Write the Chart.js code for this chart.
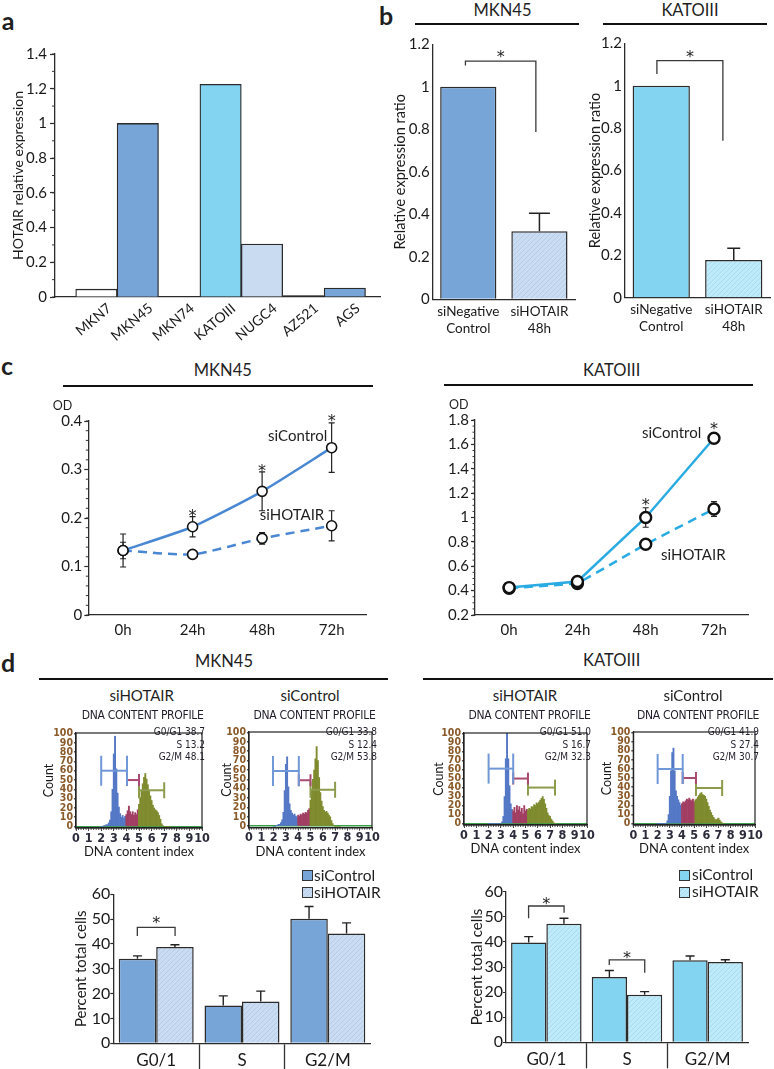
<!DOCTYPE html>
<html><head><meta charset="utf-8"><title>HOTAIR figure</title>
<script src="https://cdn.jsdelivr.net/npm/chart.js@4.4.1/dist/chart.umd.min.js"></script>
<style>
html,body{margin:0;padding:0;background:#fff}
body{position:relative;width:774px;height:1069px;overflow:hidden;font-family:Lato,"Open Sans",sans-serif;color:#1f1f1f}
canvas{position:absolute}
.t{position:absolute;transform:translate(-50%,-50%);line-height:1;white-space:nowrap}
.r{position:absolute;background:#111;height:2px}
.sw{position:absolute;width:11px;height:11px;border:1px solid #333;box-sizing:border-box}
</style></head><body>
<script>
// ---------------- DATA ----------------
const cellLines = ['MKN7','MKN45','MKN74','KATOIII','NUGC4','AZ521','AGS'];
const hotairExpr = [0.045, 1.0, 0, 1.225, 0.305, 0.008, 0.052];
const aTicks = [0,0.2,0.4,0.6,0.8,1,1.2,1.4];

const siLabels = [['siNegative','Control'],['siHOTAIR','48h']];
const mkn45Ratio = [1.0, 0.32];
const mkn45RatioErr = [0, 0.085];
const katoRatio = [1.0, 0.178];
const katoRatioErr = [0, 0.055];
const bTicks = [0,0.2,0.4,0.6,0.8,1,1.2];

const timePoints = ['0h','24h','48h','72h'];
const mkn45OdCtrl = [0.133, 0.182, 0.255, 0.345];
const mkn45OdCtrlErr = [0.034, 0.021, 0.040, 0.051];
const mkn45OdSi = [0.133, 0.125, 0.158, 0.184];
const mkn45OdSiErr = [0.017, 0.005, 0.012, 0.031];
const katoOdCtrl = [0.425, 0.475, 1.0, 1.65];
const katoOdCtrlErr = [0.02, 0.02, 0.08, 0.04];
const katoOdSi = [0.42, 0.458, 0.78, 1.07];
const katoOdSiErr = [0.02, 0.02, 0.02, 0.06];
const cLeftTicks = [0,0.1,0.2,0.3,0.4];
const cRightTicks = [0.2,0.4,0.6,0.8,1,1.2,1.4,1.6,1.8];

const dnaBins = [2.0,2.1,2.2,2.3,2.4,2.5,2.6,2.7,2.8,2.9,3.0,3.1,3.2,3.3,3.4,3.5,3.6,3.7,3.8,3.9,
  4.0,4.1,4.2,4.3,4.4,4.5,4.6,4.7,4.8,4.9,5.0,5.1,5.2,5.3,5.4,5.5,5.6,5.7,5.8,5.9,
  6.0,6.1,6.2,6.3,6.4,6.5,6.6,6.7,6.8,6.9,7.0,7.1,7.2,7.3,7.4];
const mkn45SiHist = [0,0,1,1,2,2,4,7,16,40,78,97,62,36,21,14,10,12,9,11,
  13,17,22,16,13,16,12,15,13,18,24,31,38,46,53,57,51,45,38,33,
  28,23,20,18,17,15,12,8,3,1,0,0,0,0,0];
const mkn45CtrlHist = [0,0,1,1,2,2,4,7,15,38,66,74,42,24,17,14,12,13,11,10,
  12,11,13,12,14,13,15,14,17,19,28,38,50,60,72,85,70,52,36,27,
  21,17,15,16,14,12,10,6,3,1,0,0,0,0,0];
const katoSiHist = [0,0,0,0,0,0,0,0,0,0,0,2,8,30,72,100,72,42,22,16,
  14,18,12,20,15,19,13,17,11,20,14,16,15,17,16,19,18,21,20,23,
  22,24,26,28,30,27,22,17,12,9,8,5,3,1,0];
const katoCtrlHist = [0,0,0,0,0,0,0,0,3,10,30,58,78,83,58,36,30,26,23,20,
  22,24,23,25,27,26,28,26,25,27,24,26,27,29,31,33,34,32,31,30,
  27,23,19,15,12,9,7,5,4,5,6,4,2,1,0];
const mkn45SiBounds = [4.0, 5.0], mkn45CtrlBounds = [4.0, 5.0];
const katoSiBounds = [4.0, 5.2], katoCtrlBounds = [4.0, 5.1];
// gates: [start, end, count level] for G0/G1, S, G2/M
const mkn45SiGates = [[2.0,4.05,60],[4.05,5.0,50],[5.0,7.0,39]];
const mkn45CtrlGates = [[1.95,4.05,59],[4.05,5.0,49],[5.0,7.0,39]];
const katoSiGates = [[2.0,4.0,61],[4.0,5.2,50],[5.2,7.4,40]];
const katoCtrlGates = [[2.0,4.06,60],[4.06,5.15,50],[5.15,7.3,39]];
const mkn45SiStats = ['G0/G1 38.7','S 13.2','G2/M 48.1'];
const mkn45CtrlStats = ['G0/G1 33.8','S 12.4','G2/M 53.8'];
const katoSiStats = ['G0/G1 51.0','S 16.7','G2/M 32.3'];
const katoCtrlStats = ['G0/G1 41.9','S 27.4','G2/M 30.7'];
const histXTicks = [0,1,2,3,4,5,6,7,8,9,10];
const histYTicks = [0,10,20,30,40,50,60,70,80,90,100];

const phases = ['G0/1','S','G2/M'];
const mkn45PctCtrl = [34.0, 15.2, 50.2];
const mkn45PctCtrlErr = [1.2, 3.9, 4.9];
const mkn45PctSi = [38.8, 16.8, 44.2];
const mkn45PctSiErr = [0.9, 4.2, 4.3];
const katoPctCtrl = [39.8, 26.0, 32.7];
const katoPctCtrlErr = [2.3, 2.6, 1.7];
const katoPctSi = [47.2, 18.9, 32.0];
const katoPctSiErr = [2.2, 1.3, 0.9];
const dTicks = [0,10,20,30,40,50,60];

// ---------------- STYLE ----------------
const FONT = 'Lato, "Open Sans", sans-serif';
const NARROW = '"Liberation Sans Narrow", "Arial Narrow", "DejaVu Sans Condensed", sans-serif';
const STARFONT = '"DejaVu Sans", sans-serif';
const INK = '#1a1a1a', EDGE = '#2b2b2b';
const MKBLUE = '#77A5D8', KCYAN = '#82D4F1', LIGHTBLUE = '#C8DBF1';
const exprColors = ['#ffffff', MKBLUE, '#ffffff', KCYAN, LIGHTBLUE, '#2a2a2a', MKBLUE];
const HB = '#5478C6', HM = '#A23E63', HO = '#7F8B2E';
const GATEC = ['#7098D8', '#A94A70', '#8C9B4C'];
const GATER = [15, 6, 8];
Chart.defaults.font.family = FONT;
Chart.defaults.color = INK;

function hatch(base, stripe){
  const c = document.createElement('canvas'); c.width = 5; c.height = 5;
  const g = c.getContext('2d');
  g.fillStyle = base; g.fillRect(0,0,5,5);
  g.strokeStyle = stripe; g.lineWidth = 1;
  g.beginPath(); g.moveTo(-1,6); g.lineTo(6,-1); g.stroke();
  return g.createPattern(c, 'repeat');
}
const mkHatch = hatch('#CADCF2', '#B5CBE8');
const kHatch = hatch('#BFEAF9', '#A6DCF0');

// ---------------- PLUGINS ----------------
function drawErr(chart, o){
  const ctx = chart.ctx, ys = chart.scales.y;
  ctx.save(); ctx.strokeStyle = o.color || '#222'; ctx.lineWidth = o.width || 1.3;
  chart.data.datasets.forEach((ds, di) => {
    if (!ds.errors) return;
    const meta = chart.getDatasetMeta(di);
    meta.data.forEach((el, i) => {
      const e = ds.errors[i]; if (!e) return;
      const v = ds.data[i];
      const top = ys.getPixelForValue(v + e);
      const bot = o.up ? ys.getPixelForValue(v) : ys.getPixelForValue(v - e);
      const h = o.cap / 2, x = el.x;
      ctx.beginPath();
      ctx.moveTo(x, bot); ctx.lineTo(x, top);
      ctx.moveTo(x - h, top); ctx.lineTo(x + h, top);
      if (!o.up) { ctx.moveTo(x - h, bot); ctx.lineTo(x + h, bot); }
      ctx.stroke();
    });
  });
  ctx.restore();
}
const errPlugin = {
  id: 'err',
  beforeDatasetsDraw(chart, a, o){ if (o.on && !o.after) drawErr(chart, o); },
  afterDatasetsDraw(chart, a, o){ if (o.on && o.after) drawErr(chart, o); }
};
const sigPlugin = {
  id: 'sig',
  afterDatasetsDraw(chart, a, o){
    if (!o.items) return;
    const xs = chart.scales.x, ys = chart.scales.y, ctx = chart.ctx, fs = o.fs || 15;
    ctx.save(); ctx.strokeStyle = '#3a3a3a'; ctx.lineWidth = 1.3; ctx.fillStyle = '#222';
    ctx.font = fs + 'px ' + STARFONT; ctx.textAlign = 'center'; ctx.textBaseline = 'alphabetic';
    o.items.forEach(it => {
      let sx;
      if (it.x0 !== undefined) {
        const xa = xs.getPixelForValue(it.x0), xb = xs.getPixelForValue(it.x1), t = ys.getPixelForValue(it.top);
        ctx.beginPath();
        ctx.moveTo(xa, ys.getPixelForValue(it.y0)); ctx.lineTo(xa, t); ctx.lineTo(xb, t); ctx.lineTo(xb, ys.getPixelForValue(it.y1));
        ctx.stroke();
        sx = (xa + xb) / 2;
      } else sx = xs.getPixelForValue(it.x);
      ctx.fillText('*', sx, ys.getPixelForValue(it.star) + 0.6 * fs);
    });
    ctx.restore();
  }
};
const minorPlugin = {
  id: 'minor',
  afterDraw(chart, a, o){
    if (!o.on) return;
    const s = chart.scales[o.axis], ctx = chart.ctx;
    ctx.save(); ctx.strokeStyle = o.color || '#333'; ctx.lineWidth = o.width || 1;
    ctx.beginPath();
    for (let k = 0; ; k++) {
      const v = o.start + k * o.step;
      if (v > s.max + 1e-9) break;
      if (v < s.min - 1e-9) continue;
      const p = s.getPixelForValue(v);
      if (s.isHorizontal()) { ctx.moveTo(p, s.top); ctx.lineTo(p, s.top + o.len); }
      else { ctx.moveTo(s.right - o.len, p); ctx.lineTo(s.right, p); }
    }
    ctx.stroke(); ctx.restore();
  }
};
const framePlugin = {
  id: 'frame',
  afterDraw(chart, a, o){
    if (!o.on) return;
    const c = chart.chartArea, ctx = chart.ctx;
    ctx.save(); ctx.strokeStyle = '#222'; ctx.lineWidth = 1.2;
    ctx.strokeRect(c.left, c.top, c.right - c.left, c.bottom - c.top);
    ctx.restore();
  }
};
Chart.register(errPlugin, sigPlugin, minorPlugin, framePlugin);

// ---------------- HELPERS ----------------
function build(area, yW, xH, pad, config){
  const p = Object.assign({left:4, top:12, right:8, bottom:4}, pad || {});
  const [L, T, R, B] = area;
  const cx = Math.floor(L - yW - p.left), cy = Math.floor(T - p.top);
  p.left = L - yW - cx; p.top = T - cy;
  const cw = Math.ceil(R + p.right - cx), ch = Math.ceil(B + xH + p.bottom - cy);
  p.right = cw - (R - cx); p.bottom = ch - (B + xH - cy);
  const cv = document.createElement('canvas');
  cv.width = cw; cv.height = ch;
  cv.style.left = cx + 'px'; cv.style.top = cy + 'px';
  cv.style.width = cw + 'px'; cv.style.height = ch + 'px';
  document.body.appendChild(cv);
  const o = config.options;
  o.responsive = false; o.animation = false; o.devicePixelRatio = 1; o.events = [];
  o.layout = {padding: p};
  o.plugins = Object.assign({legend:{display:false}, tooltip:{enabled:false}}, o.plugins || {});
  o.scales.x.afterFit = s => { s.height = xH; };
  o.scales.y.afterFit = s => { s.width = yW; };
  return new Chart(cv, config);
}
function yAxis(o){
  return {
    type: 'linear', min: o.min, max: o.max,
    afterBuildTicks: s => { s.ticks = o.ticks.map(v => ({value: v})); },
    ticks: {autoSkip: false, font: {size: o.fs, family: o.family || FONT, weight: o.weight || 'normal'}, padding: o.pad, color: o.color || INK, callback: v => String(v)},
    grid: {display: true, drawOnChartArea: false, drawTicks: o.tl > 0, tickLength: o.tl, tickColor: EDGE, tickWidth: 1.2},
    border: {display: true, color: EDGE, width: 1.3},
    title: o.title ? {display: true, text: o.title, font: {size: o.tfs}, padding: 0, color: INK} : {display: false}
  };
}
function T(str, x, y, size, extra){
  const d = document.createElement('div'); d.className = 't'; d.textContent = str;
  d.style.left = x + 'px'; d.style.top = y + 'px'; d.style.fontSize = size + 'px';
  Object.assign(d.style, extra || {});
  document.body.appendChild(d); return d;
}
function rule(x0, x1, y){
  const d = document.createElement('div'); d.className = 'r';
  d.style.left = x0 + 'px'; d.style.top = (y - 1) + 'px'; d.style.width = (x1 - x0) + 'px';
  document.body.appendChild(d);
}
function swatch(x, y, bg){
  const d = document.createElement('div'); d.className = 'sw';
  d.style.left = x + 'px'; d.style.top = y + 'px'; d.style.background = bg;
  document.body.appendChild(d);
}
const BOLD = {fontWeight: 'bold'};

// ---------------- PANEL a ----------------
build([55, 54, 380, 297], 45, 44, {top: 12, right: 6}, {
  type: 'bar',
  data: {datasets: [{
    data: cellLines.map((c, i) => ({x: i, y: hotairExpr[i]})),
    backgroundColor: exprColors, borderColor: EDGE, borderWidth: 1.3,
    barPercentage: 1, categoryPercentage: 1
  }]},
  options: {
    scales: {
      x: {type: 'linear', min: -1.0, max: 6.85, offset: false,
        afterBuildTicks: s => { s.ticks = cellLines.map((c, i) => ({value: i})); },
        ticks: {autoSkip: false, minRotation: 40, maxRotation: 40, labelOffset: 13, padding: 3, font: {size: 14}, callback: v => cellLines[v]},
        grid: {display: false, offset: false, drawTicks: false},
        border: {display: true, color: EDGE, width: 1.3}},
      y: yAxis({min: 0, max: 1.4, ticks: aTicks, fs: 15, tl: 5, pad: 3, title: 'HOTAIR relative expression', tfs: 14})
    },
    plugins: {minor: {on: true, axis: 'y', start: 0, step: 0.1, len: 3}}
  }
});

// ---------------- PANEL b ----------------
function panelB(area, yW, vals, errs, colors, cap, sig){
  return build(area, yW, 42, {top: 12, right: 4}, {
    type: 'bar',
    data: {labels: siLabels, datasets: [{data: vals, errors: errs, backgroundColor: colors, borderColor: EDGE, borderWidth: 1.5, barPercentage: 0.79, categoryPercentage: 1}]},
    options: {
      scales: {
        x: {ticks: {font: {size: 13.5, lineHeight: 1.25}, padding: 4}, grid: {display: false, drawTicks: false}, border: {display: true, color: EDGE, width: 1.3}},
        y: yAxis({min: 0, max: 1.2, ticks: bTicks, fs: 15, tl: 0, pad: 3, title: 'Relative expression ratio', tfs: 14.5})
      },
      plugins: {err: {on: true, up: true, cap: cap, after: true, width: 1.5}, sig: {items: sig, fs: 16}}
    }
  });
}
panelB([432.7, 44.3, 575, 299.3], 41, mkn45Ratio, mkn45RatioErr, [MKBLUE, mkHatch], 21,
  [{x0: -0.04, x1: 0.95, top: 1.121, y0: 1.10, y1: 0.787, star: 1.16}]);
panelB([625, 43.3, 770, 297.7], 38.4, katoRatio, katoRatioErr, [KCYAN, kHatch], 13,
  [{x0: -0.06, x1: 0.85, top: 1.118, y0: 1.055, y1: 0.74, star: 1.155}]);

// ---------------- PANEL c ----------------
function panelC(area, yW, ctrl, ctrlErr, si, siErr, color, ticks, min, max, minorStep, stars, ptR, ptW, tension){
  const common = {borderColor: color, borderWidth: 2.5, pointRadius: ptR, pointBackgroundColor: '#fff', pointBorderColor: '#111', pointBorderWidth: ptW, tension: tension};
  return build(area, yW, 30, {top: 12, right: 6}, {
    type: 'line',
    data: {labels: timePoints, datasets: [
      Object.assign({data: ctrl, errors: ctrlErr}, common),
      Object.assign({data: si, errors: siErr, borderDash: [9, 6]}, common)
    ]},
    options: {
      scales: {
        x: {offset: true, ticks: {font: {size: 15}, padding: 6}, grid: {display: false, drawTicks: false}, border: {display: true, color: EDGE, width: 1.3}},
        y: yAxis({min: min, max: max, ticks: ticks, fs: 15, tl: 4, pad: 2})
      },
      plugins: {err: {on: true, cap: 6, after: false, width: 1.2}, sig: {items: stars, fs: 16}, minor: {on: true, axis: 'y', start: min, step: minorStep, len: 2.5}}
    }
  });
}
panelC([88.3, 421, 366.7, 615], 40, mkn45OdCtrl, mkn45OdCtrlErr, mkn45OdSi, mkn45OdSiErr, '#4A87D3', cLeftTicks, 0, 0.4, 0.02,
  [{x: 1, star: 0.214}, {x: 2, star: 0.306}, {x: 3, star: 0.409}], 5, 1.6, 0.2);
panelC([475, 420, 749.3, 615], 40, katoOdCtrl, katoOdCtrlErr, katoOdSi, katoOdSiErr, '#2AABE2', cRightTicks, 0.2, 1.8, 0.05,
  [{x: 2, star: 1.143}, {x: 3, star: 1.76}], 5.5, 2.4, 0);

// ---------------- PANEL d histograms ----------------
function hist(area, yW, counts, bounds, gates){
  const sets = [{
    type: 'bar', order: 2,
    data: dnaBins.map((b, i) => ({x: b, y: counts[i]})),
    backgroundColor: dnaBins.map(b => b < bounds[0] - 1e-6 ? HB : (b < bounds[1] - 1e-6 ? HM : HO)),
    borderWidth: 0, barPercentage: 1, categoryPercentage: 1
  }];
  gates.forEach((g, k) => sets.push({
    type: 'line', order: 1,
    data: [{x: g[0], y: g[2]}, {x: g[1], y: g[2]}],
    borderColor: GATEC[k], borderWidth: 2,
    pointStyle: 'line', pointRotation: 90, pointRadius: GATER[k], pointBorderColor: GATEC[k], pointBorderWidth: 2
  }));
  return build(area, yW, 32, {top: 8, right: 9}, {
    type: 'bar',
    data: {datasets: sets},
    options: {
      scales: {
        x: {type: 'linear', min: 0, max: 10, offset: false,
          afterBuildTicks: s => { s.ticks = histXTicks.map(v => ({value: v})); },
          ticks: {autoSkip: false, maxRotation: 0, font: {family: NARROW, size: 12.5, weight: 'bold'}, color: '#2b2b3b', padding: 0},
          grid: {display: true, drawOnChartArea: false, offset: false, drawTicks: true, tickLength: 3, tickColor: '#444'},
          border: {display: true, color: '#222', width: 1.2},
          title: {display: true, text: 'DNA content index', font: {size: 13}, padding: 0, color: INK}},
        y: {type: 'linear', min: -1.5, max: 100.5,
          afterBuildTicks: s => { s.ticks = histYTicks.map(v => ({value: v})); },
          ticks: {autoSkip: false, font: {family: NARROW, size: 10.5, weight: 'bold'}, color: '#8a5a2a', padding: 1},
          grid: {display: true, drawOnChartArea: true, color: c => (c.tick && c.tick.value === 0) ? '#3aa04a' : 'rgba(0,0,0,0)', lineWidth: 1.6, drawTicks: true, tickLength: 2, tickColor: '#555'},
          border: {display: true, color: '#222', width: 1.2},
          title: {display: true, text: 'Count', font: {size: 12.5}, padding: 0, color: INK}}
      },
      plugins: {frame: {on: true}, minor: {on: true, axis: 'x', start: 0, step: 0.2, len: 2, color: '#555'}}
    }
  });
}
hist([76, 724, 209.3, 828], 35, mkn45SiHist, mkn45SiBounds, mkn45SiGates);
hist([249, 723.5, 380, 827.7], 29.5, mkn45CtrlHist, mkn45CtrlBounds, mkn45CtrlGates);
hist([464, 724, 595, 825], 33, katoSiHist, katoSiBounds, katoSiGates);
hist([633.3, 723.3, 762.7, 825], 33.8, katoCtrlHist, katoCtrlBounds, katoCtrlGates);

// ---------------- PANEL d bars ----------------
function panelD(area, yW, ctrl, ctrlErr, si, siErr, c1, c2, sig){
  return build(area, yW, 26, {top: 12, right: 6, bottom: 0}, {
    type: 'bar',
    data: {labels: phases, datasets: [
      {label: 'siControl', data: ctrl, errors: ctrlErr, backgroundColor: c1, borderColor: EDGE, borderWidth: 1.5},
      {label: 'siHOTAIR', data: si, errors: siErr, backgroundColor: c2, borderColor: EDGE, borderWidth: 1.5}
    ]},
    options: {
      datasets: {bar: {barPercentage: 1, categoryPercentage: 0.874}},
      scales: {
        x: {offset: true, ticks: {font: {size: 17}, padding: -19},
          grid: {display: true, offset: true, drawOnChartArea: false, drawTicks: true, tickLength: 26, tickWidth: 1.3,
            tickColor: c => (c.index > 0 && c.index < phases.length) ? '#333' : 'rgba(0,0,0,0)'},
          border: {display: true, color: EDGE, width: 1.3}},
        y: yAxis({min: 0, max: 60, ticks: dTicks, fs: 16, tl: 3, pad: 0, title: 'Percent total cells', tfs: 15})
      },
      plugins: {err: {on: true, up: true, cap: 9, after: true, width: 1.4}, sig: {items: sig, fs: 16}}
    }
  });
}
panelD([113.3, 894.3, 370.7, 1043.3], 41.5, mkn45PctCtrl, mkn45PctCtrlErr, mkn45PctSi, mkn45PctSiErr, MKBLUE, mkHatch,
  [{x0: -0.22, x1: 0.22, top: 46.7, y0: 43.2, y1: 43.2, star: 50.3}]);
panelD([506, 891.7, 748, 1042.3], 38.2, katoPctCtrl, katoPctCtrlErr, katoPctSi, katoPctSiErr, KCYAN, kHatch,
  [{x0: -0.22, x1: 0.22, top: 54.3, y0: 49.4, y1: 51.6, star: 57}, {x0: 0.78, x1: 1.22, top: 32.8, y0: 30.8, y1: 27.7, star: 35.5}]);

// ---------------- TEXT / DECOR ----------------
T('a', 8, 20, 25, BOLD); T('b', 386, 15, 25, BOLD); T('c', 7, 364.5, 25, BOLD); T('d', 8, 662, 25, BOLD);
T('MKN45', 502.5, 9.5, 16.5); T('KATOIII', 690, 9.5, 16.5);
rule(415, 579, 24); rule(602.7, 766.7, 24);
T('MKN45', 222.8, 370, 16.5); T('KATOIII', 611.7, 370, 16.5);
rule(63, 373, 385.5); rule(444.3, 753.3, 385);
T('OD', 62.5, 406, 12.5); T('OD', 458.7, 405, 12.5);
T('siControl', 297.7, 435, 15); T('siHOTAIR', 292, 514.3, 15);
T('siControl', 671.7, 431.7, 15); T('siHOTAIR', 693.3, 554, 15);
T('MKN45', 224, 661, 16.5); T('KATOIII', 611.7, 660, 16.5);
rule(39.3, 388.3, 679); rule(423.3, 772.7, 679);
T('siHOTAIR', 141.7, 695, 15); T('siControl', 310, 695, 15);
T('siHOTAIR', 525, 694.5, 15); T('siControl', 693, 694.5, 15);
const NAR = {fontFamily: NARROW, color: '#221e2a'};
[142.6, 314.5, 529.5, 698].forEach(x => T('DNA CONTENT PROFILE', x, 715, 12, Object.assign({letterSpacing: '-0.3px'}, NAR)));
const statsSets = [[mkn45SiStats, 205], [mkn45CtrlStats, 377], [katoSiStats, 591], [katoCtrlStats, 759]];
statsSets.forEach(([st, xr]) => st.forEach((s, i) => T(s, xr, 732 + i * 12.5, 10, Object.assign({transform: 'translate(-100%,-50%)'}, NAR))));
// legends
const hatchCss = (b, s) => 'repeating-linear-gradient(135deg,' + b + ' 0 2px,' + s + ' 2px 3px)';
swatch(301.5, 870, MKBLUE); swatch(301.5, 887, hatchCss('#CADCF2', '#B5CBE8'));
T('siControl', 314, 875.5, 15.5, {transform: 'translate(0,-50%)'}); T('siHOTAIR', 314, 892.5, 15.5, {transform: 'translate(0,-50%)'});
swatch(678.5, 869.5, KCYAN); swatch(678.5, 887, hatchCss('#BFEAF9', '#A6DCF0'));
T('siControl', 692, 874.5, 15.5, {transform: 'translate(0,-50%)'}); T('siHOTAIR', 692, 892, 15.5, {transform: 'translate(0,-50%)'});
</script>
</body></html>
